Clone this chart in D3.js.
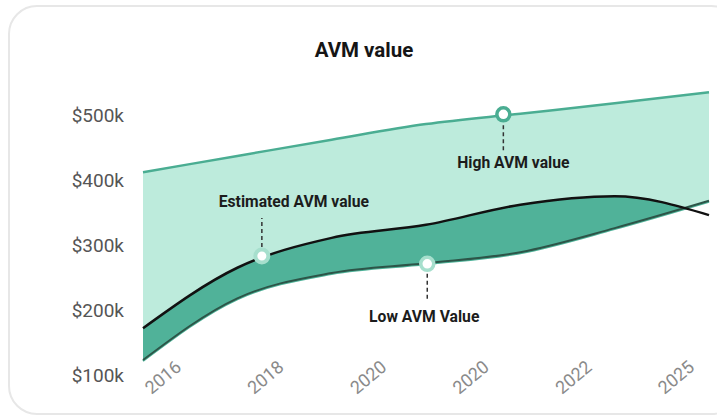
<!DOCTYPE html>
<html>
<head>
<meta charset="utf-8">
<script src="https://cdn.jsdelivr.net/npm/d3@7"></script>
<style>
  html, body { margin: 0; padding: 0; background: #ffffff; }
  svg { display: block; font-family: Roboto, "Noto Sans", sans-serif; }
</style>
</head>
<body>
<svg id="chart" width="717" height="418"></svg>
<script>
// ---- data ----
const years = [2016, 2017.5, 2019, 2020.5, 2022, 2023.5, 2025];
const highValues = [412, 437, 462, 486, 502, 518, 535];
const estimatedValues = [172, 265, 311, 331, 362, 375, 346];
const lowValues = [123, 218, 257, 272, 289, 326, 368];
const yTickValues = [100, 200, 300, 400, 500];
const xTickLabels = ["2016", "2018", "2020", "2020", "2022", "2025"];
const markerSeries = ["Estimated AVM value", "High AVM value", "Low AVM Value"];
const markerYears = [2017.89, 2021.73, 2020.52];
const markerValues = [283, 501, 271];

// ---- layout ----
const svg = d3.select("#chart");
const x = d3.scaleLinear().domain([2016, 2025]).range([143, 709]);
const y = d3.scaleLinear().domain([100, 500]).range([375, 115]);
const xTick = d3.scalePoint().domain(d3.range(xTickLabels.length)).range([182, 695]);

// card
svg.append("rect")
  .attr("x", 9).attr("y", 6).attr("width", 730).attr("height", 408)
  .attr("rx", 28).attr("ry", 28)
  .attr("fill", "#ffffff").attr("stroke", "#e7e7e7").attr("stroke-width", 2);

// title
svg.append("text")
  .attr("x", 364).attr("y", 57)
  .attr("text-anchor", "middle")
  .attr("font-size", 20.5).attr("font-weight", 700).attr("fill", "#151515")
  .text("AVM value");

const rows = years.map((yr, i) => ({ yr, hi: highValues[i], est: estimatedValues[i], lo: lowValues[i] }));
const curve = d3.curveMonotoneX;

// clip to band between high and low
const band = d3.area().x(d => x(d.yr)).y0(d => y(d.lo)).y1(d => y(d.hi)).curve(curve);
svg.append("clipPath").attr("id", "bandClip").append("path").attr("d", band(rows));

svg.append("path").attr("d", band(rows)).attr("fill", "#bdebdc");

const inner = d3.area().x(d => x(d.yr)).y0(d => y(d.lo)).y1(d => y(d.est)).curve(curve);
svg.append("path").attr("d", inner(rows)).attr("fill", "#50b299").attr("clip-path", "url(#bandClip)");

// lines
const line = key => d3.line().x(d => x(d.yr)).y(d => y(d[key])).curve(curve);
svg.append("path").attr("d", line("lo")(rows)).attr("fill", "none")
  .attr("stroke", "#4fb399").attr("stroke-width", 2).attr("transform", "translate(0,1)");
svg.append("path").attr("d", line("lo")(rows)).attr("fill", "none")
  .attr("stroke", "#2c5548").attr("stroke-width", 2);
svg.append("path").attr("d", line("hi")(rows)).attr("fill", "none")
  .attr("stroke", "#4aad92").attr("stroke-width", 2.5);
svg.append("path").attr("d", line("est")(rows)).attr("fill", "none")
  .attr("stroke", "#111111").attr("stroke-width", 2.5);

// y axis
const yAxis = d3.axisLeft(y).tickValues(yTickValues).tickFormat(d => `$${d}k`).tickSize(0).tickPadding(0);
const gy = svg.append("g").attr("transform", "translate(124,0)").call(yAxis);
gy.select(".domain").remove();
gy.selectAll("text").attr("font-size", 19).attr("fill", "#555555")
  .attr("font-family", "Roboto, sans-serif").attr("dy", "0.35em");

// x axis labels
const xAxis = d3.axisBottom(xTick).tickFormat(i => xTickLabels[i]).tickSize(0).tickPadding(0);
const gx = svg.append("g").attr("transform", "translate(0,369)").call(xAxis);
gx.select(".domain").remove();
gx.selectAll("text")
  .attr("font-size", 18).attr("fill", "#8a8a8a").attr("font-family", "Roboto, sans-serif")
  .attr("text-anchor", "end").attr("y", 0).attr("dy", 0)
  .attr("transform", "rotate(-40)");

// annotations
const annLayout = [
  { dir: -1, lineFrom: 9, lineTo: 38, labelDy: -49, labelDx: 32, stroke: "#a6dfcd", r: 6.5, sw: 4 },
  { dir: 1, lineFrom: 11, lineTo: 36, labelDy: 54, labelDx: 10, stroke: "#4aad92", r: 6.5, sw: 3.5 },
  { dir: 1, lineFrom: 10, lineTo: 38, labelDy: 58, labelDx: -3, stroke: "#a6dfcd", r: 6.5, sw: 3.5 }
];
markerSeries.forEach((name, i) => {
  const cx = x(markerYears[i]), cy = y(markerValues[i]);
  const L = annLayout[i];
  svg.append("line")
    .attr("x1", cx).attr("x2", cx)
    .attr("y1", cy + L.dir * L.lineFrom).attr("y2", cy + L.dir * L.lineTo)
    .attr("stroke", "#333").attr("stroke-width", 1.5).attr("stroke-dasharray", "4,3");
  svg.append("circle").attr("cx", cx).attr("cy", cy).attr("r", L.r)
    .attr("fill", "#ffffff").attr("stroke", L.stroke).attr("stroke-width", L.sw);
  svg.append("text").attr("x", cx + L.labelDx).attr("y", cy + L.labelDy)
    .attr("text-anchor", "middle").attr("font-size", 15.7).attr("font-weight", 700)
    .attr("fill", "#1c1c1c").text(name);
});
</script>
</body>
</html>
